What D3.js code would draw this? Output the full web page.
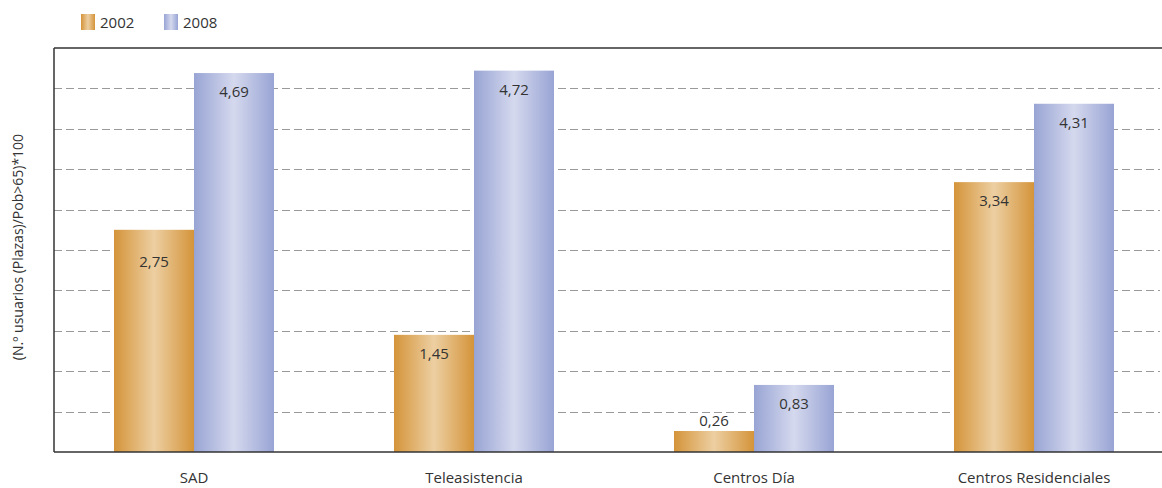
<!DOCTYPE html>
<html><head><meta charset="utf-8">
<script src="https://cdn.jsdelivr.net/npm/d3@7"></script>
<style>body{margin:0;background:#fff;} svg{display:block;font-family:"Open Sans","Noto Sans",sans-serif;}</style>
</head><body><svg id="c" width="1162" height="488"></svg>
<script>
const categories = ["SAD", "Teleasistencia", "Centros Día", "Centros Residenciales"];
const seriesNames = ["2002", "2008"];
const values2002 = [2.75, 1.45, 0.26, 3.34];
const values2008 = [4.69, 4.72, 0.83, 4.31];
const valueLabels2002 = ["2,75", "1,45", "0,26", "3,34"];
const valueLabels2008 = ["4,69", "4,72", "0,83", "4,31"];
const yTicks = [0.5, 1, 1.5, 2, 2.5, 3, 3.5, 4, 4.5];
const yLabel = "(N.º usuarios (Plazas)/Pob>65)*100";

(function () {
const svg = d3.select("#c");
const defs = svg.append("defs");
function grad(id, edge, mid) {
  const g = defs.append("linearGradient").attr("id", id).attr("x1", "0%").attr("x2", "100%").attr("y1", "0%").attr("y2", "0%");
  g.append("stop").attr("offset", "0%").attr("stop-color", edge);
  g.append("stop").attr("offset", "50%").attr("stop-color", mid);
  g.append("stop").attr("offset", "100%").attr("stop-color", edge);
}
grad("gOr", "#d4943a", "#edcfa2");
grad("gBl", "#98a4d4", "#d5d9ee");
const fills = ["url(#gOr)", "url(#gBl)"];

const mLeft = 54, mRight = 1162, mTop = 48, mBottom = 452;
const y = d3.scaleLinear().domain([0, 5]).range([mBottom, mTop]);
const x0 = d3.scaleBand().domain(categories).range([54, 1174]).padding(0);
const x1 = d3.scaleBand().domain(seriesNames).range([0, 160]).padding(0);
const groupOffset = (x0.bandwidth() - 160) / 2;

// gridlines
svg.append("g").selectAll("line").data(yTicks).join("line")
  .attr("x1", mLeft).attr("x2", mRight - 2)
  .attr("y1", d => Math.round(y(d)) + 0.5).attr("y2", d => Math.round(y(d)) + 0.5)
  .attr("stroke", "#9a9a9a").attr("stroke-width", 1).attr("stroke-dasharray", "8,4");

// bars
const data = categories.map((c, i) => ({c, vals: [values2002[i], values2008[i]], labs: [valueLabels2002[i], valueLabels2008[i]]}));
const groups = svg.append("g").selectAll("g").data(data).join("g")
  .attr("transform", d => `translate(${x0(d.c) + groupOffset},0)`);
groups.selectAll("rect").data(d => d.vals.map((v, j) => ({v, j, s: seriesNames[j]}))).join("rect")
  .attr("x", d => x1(d.s)).attr("width", x1.bandwidth())
  .attr("y", d => y(d.v)).attr("height", d => y(0) - y(d.v))
  .attr("fill", d => fills[d.j]);
groups.selectAll("text").data(d => d.vals.map((v, j) => ({v, j, s: seriesNames[j], lab: d.labs[j]}))).join("text")
  .attr("x", d => x1(d.s) + x1.bandwidth() / 2)
  .attr("y", d => {
    const h = y(0) - y(d.v);
    if (h < 35) return y(d.v) - 10 + 5;
    return y(d.v) + (d.v > 2.5 && d.v < 3 ? 32 : 19) + 5;
  })
  .attr("text-anchor", "middle").attr("font-size", 15).attr("fill", "#333")
  .text(d => d.lab);

// axes lines
svg.append("line").attr("x1", mLeft).attr("x2", mRight).attr("y1", mTop).attr("y2", mTop).attr("stroke", "#333").attr("stroke-width", 1.5);
svg.append("line").attr("x1", mLeft).attr("x2", mRight).attr("y1", mBottom).attr("y2", mBottom).attr("stroke", "#333").attr("stroke-width", 1.5);
svg.append("line").attr("x1", mLeft).attr("x2", mLeft).attr("y1", mTop).attr("y2", mBottom).attr("stroke", "#333").attr("stroke-width", 1.5);

// category labels
svg.append("g").selectAll("text").data(categories).join("text")
  .attr("x", d => x0(d) + x0.bandwidth() / 2).attr("y", 483)
  .attr("text-anchor", "middle").attr("font-size", 15).attr("fill", "#333").text(d => d);

// y label
svg.append("text").attr("transform", "translate(23,247) rotate(-90)")
  .attr("text-anchor", "middle").attr("font-size", 14).attr("fill", "#333").text(yLabel);

// legend
const legX = [81, 164];
const lg = svg.append("g").selectAll("g").data(seriesNames).join("g")
  .attr("transform", (d, i) => `translate(${legX[i]},14)`);
lg.append("rect").attr("width", 14).attr("height", 16).attr("fill", (d, i) => fills[i]);
lg.append("text").attr("x", 19).attr("y", 14).attr("font-size", 15).attr("fill", "#333").text(d => d);
})();
</script></body></html>
